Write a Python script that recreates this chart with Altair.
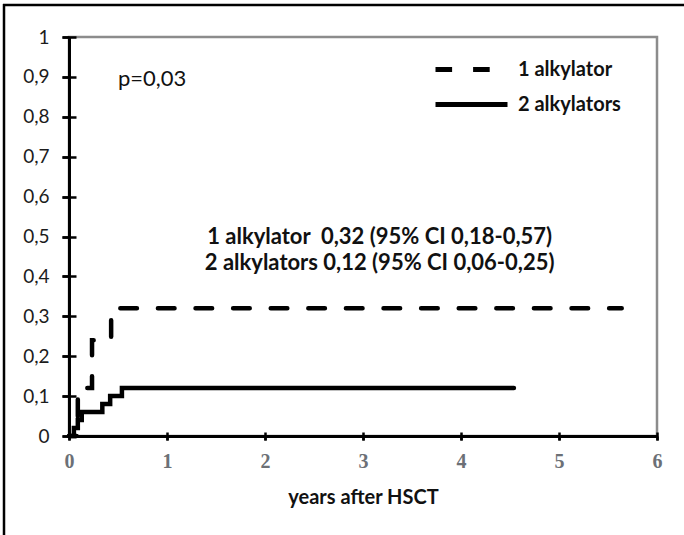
import altair as alt
import pandas as pd

# ---- data ----
series_names = ["1 alkylator", "2 alkylators"]
t_one = [0.0, 0.09, 0.235, 0.43, 5.64]
v_one = [0.0, 0.12, 0.24, 0.32, 0.32]
t_two = [0.0, 0.05, 0.09, 0.13, 0.34, 0.42, 0.54, 4.54]
v_two = [0.0, 0.02, 0.04, 0.06, 0.08, 0.10, 0.12, 0.12]

x_ticks = [0, 1, 2, 3, 4, 5, 6]
y_ticks = [0, 0.1, 0.2, 0.3, 0.4, 0.5, 0.6, 0.7, 0.8, 0.9, 1.0]

x_title = "years after HSCT"
p_label = "p=0,03"
ci_lines = [
    "1 alkylator \u00a00,32 (95% CI 0,18-0,57)",
    "2 alkylators 0,12 (95% CI 0,06-0,25)",
]

df = pd.DataFrame(
    {
        "t": t_one + t_two,
        "v": v_one + v_two,
        "series": [series_names[0]] * len(t_one) + [series_names[1]] * len(t_two),
    }
)
one = pd.DataFrame({"k": [0]})

SANS = "Lato"
xs = alt.Scale(domain=[0, 6], nice=False, zero=True)
ys = alt.Scale(domain=[0, 1], nice=False)
y_label_expr = "replace(format(datum.value, '~g'), '.', ',')"

lines = alt.Chart(df).mark_line(
    interpolate="step-after", strokeWidth=4.5, color="black", strokeCap="round",
    strokeDashOffset=9,
).encode(
    x=alt.X("t:Q", scale=xs, title=x_title,
            axis=alt.Axis(orient="bottom", values=x_ticks, format="d", title=x_title,
                          labelOverlap=False, labelFlush=False)),
    y=alt.Y("v:Q", scale=ys, title="",
            axis=alt.Axis(orient="left", values=y_ticks, title="", labelExpr=y_label_expr,
                          labelOverlap=False, labelFlush=False)),
    strokeDash=alt.StrokeDash(
        "series:N",
        scale=alt.Scale(domain=series_names, range=[[16.6, 21], [1, 0]]),
        legend=alt.Legend(
            title=None, orient="none", legendX=388, legendY=18, padding=0,
            symbolType="M-3,0H3", symbolSize=576, symbolStrokeWidth=5,
            symbolStrokeColor="black", symbolFillColor="transparent",
            labelFont=SANS, labelFontSize=20, labelFontWeight="bold",
            labelColor="#111111", labelOffset=32, rowPadding=10,
        ),
    ),
)


def note(xv, yv, label, **kw):
    return alt.Chart(one).mark_text(
        font=SANS, fontSize=22, baseline="middle", color="#111111", **kw
    ).encode(
        x=alt.X(datum=xv, scale=xs, axis=None),
        y=alt.Y(datum=yv, scale=ys, axis=None),
        text=alt.value(label),
    )


p_text = note(0.5, 0.895, p_label, align="left")
ci_text1 = note(3.17, 0.5, ci_lines[0], align="center", fontWeight="bold")
ci_text2 = note(3.17, 0.434, ci_lines[1], align="center", fontWeight="bold")

# inner half of the crossing tick marks
tick_layer = alt.Chart(df).mark_point(opacity=0).encode(
    x=alt.X("t:Q", scale=xs, axis=alt.Axis(
        orient="bottom", values=x_ticks, offset=-4, tickSize=8,
        domain=False, labels=False, title="")),
    y=alt.Y("v:Q", scale=ys, axis=alt.Axis(
        orient="left", values=y_ticks, offset=-7, tickSize=14,
        domain=False, labels=False, title="")),
)

frame_left = alt.Chart(one).mark_rule(color="black", strokeWidth=2.5).encode(
    x=alt.value(-65), y=alt.value(-33), y2=alt.value(520)
)
frame_top = alt.Chart(one).mark_rule(color="black", strokeWidth=2.5).encode(
    x=alt.value(-66), x2=alt.value(640), y=alt.value(-32)
)

chart = (
    alt.layer(tick_layer, lines, p_text, ci_text1, ci_text2, frame_left, frame_top)
    .resolve_axis(x="independent", y="independent")
    .properties(
        width=588, height=399,
        autosize=alt.AutoSizeParams(type="none"),
        padding={"left": 69, "top": 37, "right": 27, "bottom": 99},
        background="white",
    )
    .configure_view(stroke="#8c8c8c", strokeWidth=2.5)
    .configure_axis(
        grid=False, domainColor="black", domainWidth=3, tickColor="black",
        tickWidth=2.5, labelFlush=False, labelOverlap=False,
    )
    .configure_axisX(
        tickSize=4, labelPadding=11, labelFont="Liberation Serif",
        labelFontWeight="bold", labelFontSize=20, labelColor="#6c7076",
        titleFont=SANS, titleFontWeight="bold", titleFontSize=20,
        titleColor="#111111", titleBaseline="middle", titleY=61,
    )
    .configure_axisY(
        tickSize=7, labelPadding=13, labelFont=SANS, labelFontSize=19,
        labelColor="#1c1c1c",
    )
)

chart.save("out.html", embed_options={"renderer": "svg", "actions": False})
